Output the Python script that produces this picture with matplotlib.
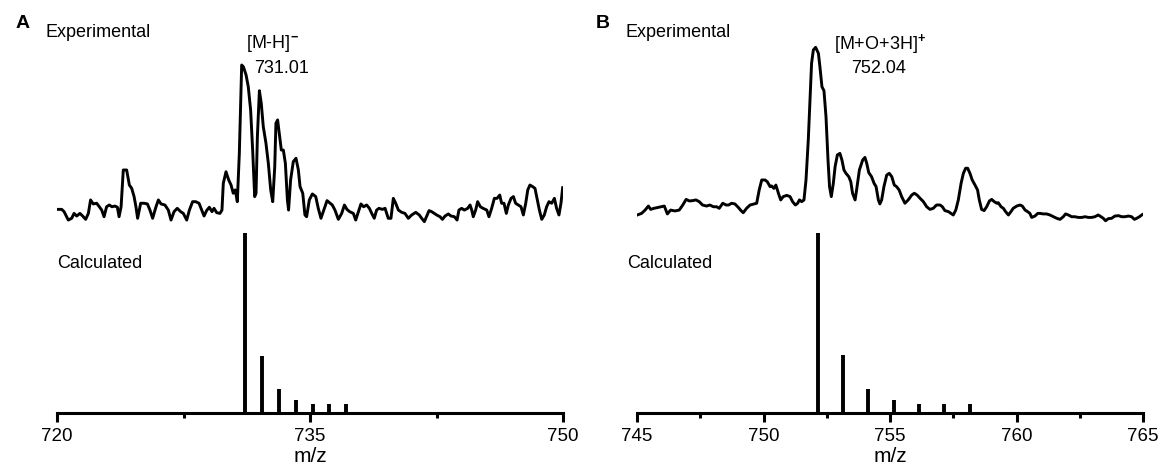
import matplotlib
matplotlib.use("Agg")
import matplotlib.pyplot as plt
from matplotlib.ticker import MultipleLocator

plt.rcParams['font.family'] = ['Liberation Sans', 'DejaVu Sans']
plt.rcParams['mathtext.fontset'] = 'custom'
plt.rcParams['mathtext.rm'] = 'Liberation Sans'
plt.rcParams['mathtext.bf'] = 'Liberation Sans:bold'

# panel A - experimental trace (m/z, intensity a.u.)
mz_exp_a = [720.0, 720.28, 720.42, 720.67, 720.87, 721.01, 721.17, 721.36, 721.52, 721.70,
            721.86, 721.99, 722.15, 722.35, 722.51, 722.65, 722.79, 722.94, 723.10, 723.26,
            723.44, 723.58, 723.68, 723.80, 723.93, 724.13, 724.29, 724.43, 724.57, 724.68,
            724.78, 724.96, 725.16, 725.36, 725.51, 725.67, 725.87, 726.01, 726.17, 726.40,
            726.60, 726.76, 726.94, 727.13, 727.33, 727.49, 727.69, 727.85, 728.04, 728.22,
            728.42, 728.58, 728.72, 728.87, 729.03, 729.19, 729.31, 729.47, 729.66, 729.78,
            729.86, 730.02, 730.18, 730.32, 730.45, 730.57, 730.69, 730.81, 730.95, 731.05,
            731.21, 731.34, 731.48, 731.60, 731.72, 731.80, 731.88, 732.00, 732.11, 732.23,
            732.39, 732.53, 732.67, 732.79, 732.91, 732.98, 733.08, 733.18, 733.30, 733.42,
            733.54, 733.66, 733.73, 733.85, 734.01, 734.17, 734.31, 734.41, 734.57, 734.70,
            734.80, 734.96, 735.14, 735.34, 735.49, 735.65, 735.85, 736.01, 736.19, 736.32,
            736.48, 736.68, 736.88, 737.04, 737.19, 737.35, 737.57, 737.71, 737.87, 738.02,
            738.18, 738.36, 738.52, 738.66, 738.81, 738.95, 739.09, 739.29, 739.45, 739.64,
            739.80, 739.94, 740.08, 740.24, 740.44, 740.63, 740.83, 741.03, 741.27, 741.48,
            741.62, 741.78, 741.92, 742.06, 742.21, 742.37, 742.51, 742.71, 742.85, 743.01,
            743.20, 743.36, 743.56, 743.72, 743.83, 743.99, 744.15, 744.35, 744.49, 744.59,
            744.68, 744.82, 744.94, 745.10, 745.26, 745.48, 745.61, 745.77, 745.93, 746.09,
            746.25, 746.36, 746.50, 746.64, 746.76, 746.92, 747.06, 747.19, 747.35, 747.51,
            747.65, 747.79, 747.91, 748.04, 748.20, 748.34, 748.48, 748.60, 748.74, 748.89,
            749.03, 749.17, 749.33, 749.49, 749.62, 749.76, 749.88, 749.98]
int_exp_a = [17.5, 17.5, 16.2, 11.4, 12.4, 15.2, 13.7, 15.2, 13.7, 11.8,
             15.2, 22.9, 20.6, 21.0, 19.0, 17.1, 13.3, 19.0, 20.0, 19.0,
             19.4, 18.7, 13.3, 19.0, 40.0, 40.0, 31.4, 29.5, 24.8, 19.0,
             12.4, 21.0, 21.0, 20.6, 17.1, 12.4, 19.0, 22.9, 20.6, 20.0,
             17.1, 11.4, 16.2, 18.1, 16.2, 15.2, 11.4, 17.1, 21.9, 21.9,
             21.0, 17.1, 13.7, 16.8, 18.7, 16.2, 18.1, 15.6, 15.2, 17.1,
             32.4, 39.0, 34.3, 31.4, 26.7, 28.6, 21.9, 49.5, 100.0, 99.0,
             94.3, 87.6, 74.3, 51.4, 24.8, 26.7, 59.0, 85.3, 78.1, 64.8,
             55.2, 43.8, 28.6, 21.9, 41.9, 66.7, 68.6, 61.0, 51.4, 51.4,
             43.8, 22.9, 17.1, 34.3, 44.8, 46.7, 40.0, 30.5, 26.7, 14.3,
             13.3, 22.9, 26.3, 24.8, 18.1, 12.4, 18.1, 22.5, 21.0, 20.0,
             17.1, 11.8, 15.2, 20.0, 17.5, 16.2, 15.2, 11.4, 16.2, 20.6,
             19.0, 20.0, 18.1, 15.2, 12.4, 17.1, 18.1, 17.5, 18.1, 12.4,
             12.4, 23.8, 21.0, 17.1, 15.8, 15.2, 12.4, 14.3, 15.8, 14.3,
             12.4, 10.5, 13.7, 16.8, 16.2, 15.2, 14.3, 13.3, 11.8, 13.7,
             14.9, 13.7, 13.3, 11.4, 17.1, 18.1, 17.1, 18.1, 20.0, 17.1,
             13.3, 17.1, 21.9, 19.0, 18.1, 17.1, 13.3, 18.1, 23.8, 23.8,
             25.7, 21.0, 21.0, 15.2, 20.0, 23.8, 24.8, 21.0, 20.0, 19.0,
             14.3, 21.0, 28.6, 31.4, 30.5, 29.5, 22.9, 17.1, 11.8, 14.3,
             19.0, 21.9, 21.0, 23.8, 18.1, 14.3, 21.0, 29.9]

# panel A - calculated isotope pattern
mz_calc_a = [731.15, 732.15, 733.15, 734.15, 735.15, 736.15, 737.15]
int_calc_a = [100, 31.7, 13.5, 7.2, 5.2, 5.0, 5.0]

# panel B - experimental trace
mz_exp_b = [745.01, 745.18, 745.32, 745.45, 745.54, 745.67, 745.80, 745.97, 746.08, 746.20,
            746.33, 746.50, 746.67, 746.81, 746.94, 747.07, 747.20, 747.33, 747.46, 747.59,
            747.75, 747.88, 748.02, 748.15, 748.25, 748.39, 748.52, 748.62, 748.74, 748.87,
            749.00, 749.11, 749.20, 749.33, 749.47, 749.62, 749.73, 749.83, 749.93, 750.06,
            750.15, 750.26, 750.32, 750.41, 750.49, 750.59, 750.68, 750.78, 750.92, 751.05,
            751.15, 751.26, 751.35, 751.42, 751.51, 751.60, 751.68, 751.77, 751.84, 751.90,
            751.97, 752.06, 752.17, 752.23, 752.31, 752.39, 752.47, 752.55, 752.61, 752.68,
            752.76, 752.83, 752.92, 753.02, 753.10, 753.18, 753.26, 753.37, 753.45, 753.52,
            753.62, 753.68, 753.79, 753.92, 754.01, 754.08, 754.16, 754.27, 754.37, 754.45,
            754.54, 754.60, 754.67, 754.76, 754.87, 754.97, 755.07, 755.17, 755.26, 755.36,
            755.46, 755.59, 755.72, 755.86, 755.96, 756.07, 756.19, 756.32, 756.45, 756.58,
            756.71, 756.84, 756.98, 757.07, 757.17, 757.31, 757.41, 757.50, 757.60, 757.70,
            757.81, 757.90, 757.99, 758.07, 758.16, 758.25, 758.36, 758.46, 758.53, 758.62,
            758.72, 758.82, 758.93, 759.02, 759.12, 759.22, 759.28, 759.39, 759.48, 759.57,
            759.68, 759.78, 759.87, 760.01, 760.14, 760.23, 760.34, 760.44, 760.53, 760.60,
            760.73, 760.84, 760.93, 761.06, 761.19, 761.32, 761.46, 761.59, 761.72, 761.85,
            761.94, 762.05, 762.18, 762.31, 762.44, 762.58, 762.71, 762.84, 762.97, 763.10,
            763.23, 763.34, 763.43, 763.52, 763.63, 763.76, 763.89, 764.03, 764.16, 764.29,
            764.42, 764.55, 764.66, 764.75, 764.86, 764.95, 765.0]
int_exp_b = [14.3, 15.2, 17.1, 19.4, 17.5, 18.1, 18.5, 19.0, 19.4, 14.9,
             17.1, 16.6, 17.1, 20.0, 23.2, 22.3, 22.5, 22.9, 21.9, 20.0,
             19.4, 20.0, 19.0, 19.0, 18.1, 21.0, 20.0, 20.0, 21.0, 20.6,
             18.7, 16.8, 15.6, 18.1, 20.0, 20.6, 21.0, 28.6, 34.3, 34.3,
             33.3, 30.5, 30.9, 29.5, 31.4, 26.7, 22.9, 24.8, 25.5, 24.8,
             21.9, 20.0, 21.0, 22.9, 21.9, 22.9, 34.3, 57.1, 80.0, 101.0,
             108.6, 110.1, 106.7, 99.0, 87.6, 85.3, 70.5, 45.7, 30.5, 24.8,
             32.4, 41.9, 48.6, 49.5, 45.7, 40.0, 38.1, 36.2, 33.3, 26.7,
             22.9, 28.6, 40.0, 45.7, 47.2, 43.8, 38.5, 36.2, 32.4, 30.5,
             22.9, 20.6, 22.9, 30.5, 37.1, 38.1, 36.2, 31.4, 30.5, 28.6,
             24.8, 21.0, 22.9, 25.7, 26.7, 25.7, 23.8, 21.9, 19.0, 17.5,
             18.1, 20.0, 20.0, 19.0, 16.8, 16.2, 15.2, 14.3, 17.1, 22.9,
             32.4, 38.1, 41.0, 41.0, 38.1, 34.3, 31.4, 28.6, 22.9, 17.5,
             16.8, 19.0, 22.3, 23.2, 21.9, 21.0, 21.3, 19.0, 18.1, 16.2,
             14.3, 16.2, 18.1, 19.4, 20.0, 19.4, 17.1, 16.2, 15.2, 12.9,
             13.7, 15.2, 15.2, 14.9, 14.9, 14.3, 13.3, 12.4, 11.8, 13.3,
             14.9, 14.3, 13.3, 13.3, 12.9, 12.9, 13.3, 12.9, 12.9, 13.3,
             14.3, 13.3, 12.4, 11.0, 12.2, 12.4, 13.7, 13.9, 13.3, 13.3,
             13.7, 13.3, 11.8, 12.4, 13.3, 14.3, 14.7]

# panel B - calculated isotope pattern
mz_calc_b = [752.15, 753.15, 754.15, 755.15, 756.15, 757.15, 758.15]
int_calc_b = [100, 32.0, 13.6, 7.4, 5.2, 5.2, 5.0]

panels = [
    dict(letter='A', left=57, xlim=(720, 750), major=15, minor=7.5,
         mz_exp=mz_exp_a, int_exp=int_exp_a, mz_calc=mz_calc_a, int_calc=int_calc_a,
         ion='[M-H]$^{\\mathbf{-}}$', ion_x=0.425, mass='731.01', mass_x=0.443, calc_x=0.0),
    dict(letter='B', left=637, xlim=(745, 765), major=5, minor=2.5,
         mz_exp=mz_exp_b, int_exp=int_exp_b, mz_calc=mz_calc_b, int_calc=int_calc_b,
         ion='[M+O+3H]$^{\\mathbf{+}}$', ion_x=0.48, mass='752.04', mass_x=0.478, calc_x=-0.02),
]

W, H = 1162, 469
fig = plt.figure(figsize=(W / 100, H / 100), dpi=100)

for p in panels:
    l = p['left'] / W
    w = 506 / W
    # experimental
    ax1 = fig.add_axes([l, (H - 240) / H, w, 210 / H])
    ax1.plot(p['mz_exp'], p['int_exp'], color='black', lw=2.1)
    ax1.set_xlim(p['xlim'])
    ax1.set_ylim(0, 120)
    ax1.axis('off')
    ax1.text(-0.022, 0.99, 'Experimental', transform=ax1.transAxes, fontsize=13, va='center', ha='left')
    ax1.text(p['ion_x'], 0.935, p['ion'], transform=ax1.transAxes, fontsize=13, va='center', ha='center')
    ax1.text(p['mass_x'], 0.819, p['mass'], transform=ax1.transAxes, fontsize=13, va='center', ha='center')

    # calculated
    ax2 = fig.add_axes([l, (H - 413) / H, w, 180 / H])
    ax2.vlines(p['mz_calc'], 0, p['int_calc'], color='black', lw=2.8)
    ax2.set_xlim(p['xlim'])
    ax2.set_ylim(0, 100)
    for s in ['top', 'right', 'left']:
        ax2.spines[s].set_visible(False)
    ax2.spines['bottom'].set_linewidth(2.2)
    ax2.set_yticks([])
    ax2.xaxis.set_major_locator(MultipleLocator(p['major']))
    ax2.xaxis.set_minor_locator(MultipleLocator(p['minor']))
    ax2.tick_params(axis='x', which='major', length=6.5, width=2.2, labelsize=13.5, pad=4)
    ax2.tick_params(axis='x', which='minor', length=3.5, width=2.2)
    ax2.set_xlabel('m/z', fontsize=15, labelpad=2)
    ax2.text(p['calc_x'], 0.833, 'Calculated', transform=ax2.transAxes, fontsize=13, va='center', ha='left')

    fig.text((p['left'] - 41) / W, 1 - 23 / H, p['letter'], fontsize=14, fontweight='bold', va='center', ha='left')

fig.savefig('out.png', dpi=100)
